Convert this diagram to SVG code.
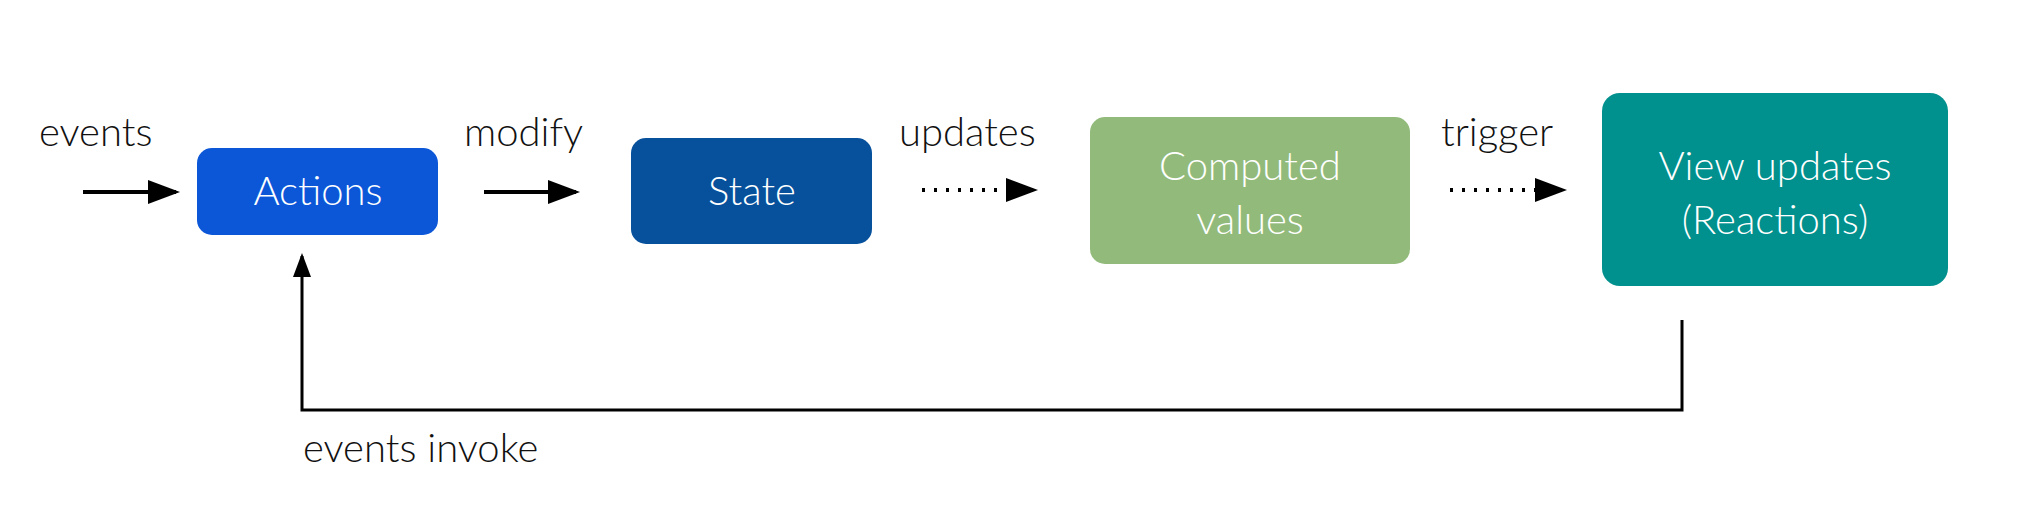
<svg xmlns="http://www.w3.org/2000/svg" width="2023" height="518" viewBox="0 0 2023 518">
<style>
text{font-family:Lato,"Liberation Sans",sans-serif;font-weight:300;font-size:40px}
.n{fill:#fff;text-anchor:middle}
.l{fill:#111}
.c{stroke:#000;stroke-width:4;fill:none}
.d{stroke-dasharray:3 9}
</style>
<defs><marker id="a" markerWidth="8" markerHeight="6" refX="7" refY="3" orient="auto" markerUnits="strokeWidth"><path d="M0,0L8,3L0,6z" fill="#000"/></marker></defs>
<rect width="2023" height="518" fill="#fff"/>
<g id="actions"><rect x="197" y="148" width="241" height="87" rx="15" fill="#0b57d8"/><text class="n" x="318" y="205">Actions</text></g>
<g id="state"><rect x="631" y="138" width="241" height="106" rx="15" fill="#07519c"/><text class="n" x="752" y="205">State</text></g>
<g id="computed"><rect x="1090" y="117" width="320" height="147" rx="15" fill="#92bb7b"/><text class="n" x="1250" y="180">Computed</text><text class="n" x="1250" y="234">values</text></g>
<g id="view"><rect x="1602" y="93" width="346" height="193" rx="18" fill="#00908d"/><text class="n" x="1775" y="180">View updates</text><text class="n" x="1775" y="234">(Reactions)</text></g>
<g id="connectors">
<path class="c" d="M83,192H176" marker-end="url(#a)"/>
<path class="c" d="M484,192H576" marker-end="url(#a)"/>
<path class="c d" d="M922,190H1034" marker-end="url(#a)"/>
<path class="c d" d="M1450,190H1563" marker-end="url(#a)"/>
<path class="c" style="stroke-width:3" d="M1682,320V410H302V256" marker-end="url(#a)"/>
<text class="l" x="39" y="146">events</text>
<text class="l" x="464" y="146">modify</text>
<text class="l" x="899" y="146">updates</text>
<text class="l" x="1441" y="146">trigger</text>
<text class="l" x="303" y="462">events invoke</text>
</g>
</svg>
